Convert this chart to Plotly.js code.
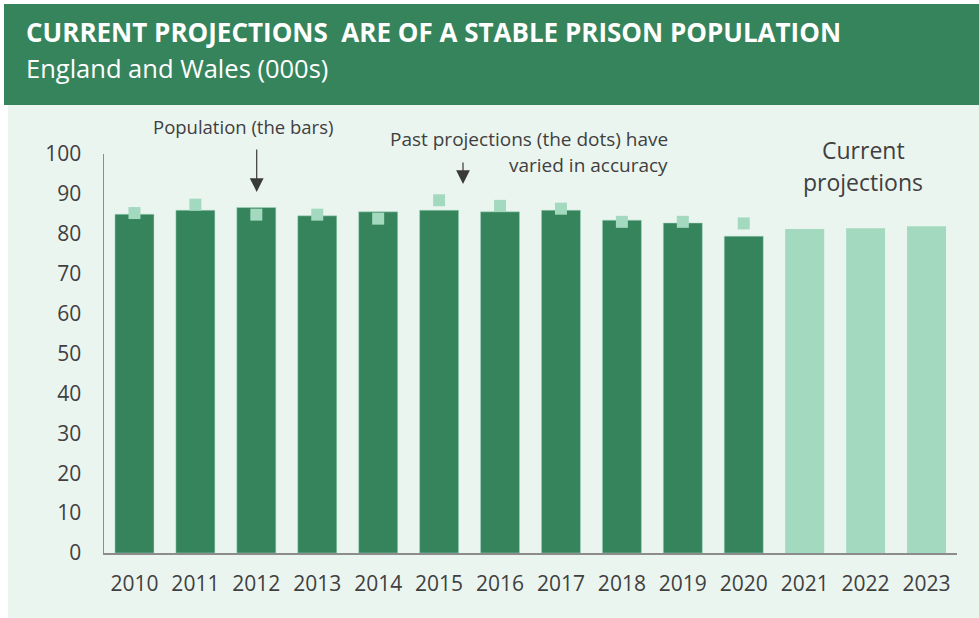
<!DOCTYPE html>
<html>
<head>
<meta charset="utf-8">
<script src="https://cdn.plot.ly/plotly-3.0.1.min.js"></script>
<style>
html,body{margin:0;padding:0;background:#ffffff;}
#chart{width:979px;height:618px;}
</style>
</head>
<body>
<div id="chart"></div>
<script>
// ---- data ----
var years = ["2010","2011","2012","2013","2014","2015","2016","2017","2018","2019","2020","2021","2022","2023"];
var actualYears = ["2010","2011","2012","2013","2014","2015","2016","2017","2018","2019","2020"];
var actualPopulation = [84.9, 85.9, 86.6, 84.5, 85.5, 85.9, 85.5, 85.9, 83.4, 82.7, 79.4];
var projYears = ["2021","2022","2023"];
var currentProjections = [81.2, 81.4, 81.9];
var pastProjections = [85.2, 87.3, 84.8, 84.8, 83.8, 88.4, 87.0, 86.3, 83.0, 83.0, 82.6];
var yTicks = [0,10,20,30,40,50,60,70,80,90,100];

var dark = "#36845c";
var light = "#a3d9bf";
var textCol = "#404040";
var FONT = "Open Sans, sans-serif";

var traces = [
  {type:"bar", x:actualYears, y:actualPopulation, marker:{color:dark, line:{color:"rgba(163,217,191,0.6)", width:0.8}}, hoverinfo:"x+y", name:"Population"},
  {type:"bar", x:projYears, y:currentProjections, marker:{color:light}, hoverinfo:"x+y", name:"Current projections"},
  {type:"scatter", mode:"markers", x:actualYears, y:pastProjections, marker:{symbol:"square", size:12, color:light}, hoverinfo:"x+y", name:"Past projections", cliponaxis:false}
];

var L = 104, R = 957, T = 154, B = 553, W = 979, H = 618;
function px(x){ return (x - L) / (R - L); }
function py(y){ return (B - y) / (B - T); }

var layout = {
  width: W, height: H,
  margin: {l: L, r: W - R, t: T, b: H - B, pad: 0},
  paper_bgcolor: "#ffffff",
  plot_bgcolor: "rgba(0,0,0,0)",
  showlegend: false,
  barmode: "overlay",
  bargap: 0.36,
  font: {family: FONT, color: textCol},
  xaxis: {
    type: "category", categoryorder: "array", categoryarray: years,
    range: [-0.5, years.length - 0.5], autorange: false,
    showline: true, linecolor: "#8c8c8c", linewidth: 1.5,
    showgrid: false, zeroline: false, ticks: "",
    tickfont: {family: FONT, size: 21, color: textCol},
    ticklabelstandoff: 11,
    fixedrange: true
  },
  yaxis: {
    range: [0, 100], autorange: false, tickvals: yTicks, ticktext: yTicks.map(String),
    showline: true, linecolor: "#8c8c8c", linewidth: 1.5,
    showgrid: false, zeroline: false, ticks: "",
    tickfont: {family: FONT, size: 21, color: textCol},
    ticklabelstandoff: 17,
    fixedrange: true
  },
  shapes: [
    {type:"rect", xref:"paper", yref:"paper", x0:px(8), x1:px(980), y0:py(619), y1:py(105), fillcolor:"#ebf5f0", line:{width:0}, layer:"below"},
    {type:"rect", xref:"paper", yref:"paper", x0:px(4), x1:px(980), y0:py(105), y1:py(4), fillcolor:"#36845c", line:{width:0}, layer:"below"}
  ],
  annotations: [
    {xref:"paper", yref:"paper", x:px(24), y:py(32), xanchor:"left", yanchor:"middle", showarrow:false,
     text:"<b>CURRENT PROJECTIONS  ARE OF A STABLE PRISON POPULATION</b>", font:{family:FONT, size:26, color:"#ffffff"}},
    {xref:"paper", yref:"paper", x:px(24), y:py(68), xanchor:"left", yanchor:"middle", showarrow:false,
     text:"England and Wales (000s)", font:{family:FONT, size:25.5, color:"#ffffff"}},
    {xref:"paper", yref:"paper", x:px(242.5), y:py(127), xanchor:"center", yanchor:"middle", showarrow:false,
     text:"Population (the bars)", font:{family:FONT, size:18.5, color:textCol}},
    {xref:"paper", yref:"paper", x:px(670), y:py(139), xanchor:"right", yanchor:"middle", showarrow:false,
     text:"Past projections (the dots) have", font:{family:FONT, size:19, color:textCol}},
    {xref:"paper", yref:"paper", x:px(670), y:py(165), xanchor:"right", yanchor:"middle", showarrow:false,
     text:"varied in accuracy", font:{family:FONT, size:19, color:textCol}},
    {xref:"paper", yref:"paper", x:px(863), y:py(150), xanchor:"center", yanchor:"middle", showarrow:false,
     text:"Current", font:{family:FONT, size:23, color:textCol}},
    {xref:"paper", yref:"paper", x:px(863), y:py(182), xanchor:"center", yanchor:"middle", showarrow:false,
     text:"projections", font:{family:FONT, size:23, color:textCol}},
    {xref:"paper", yref:"paper", x:px(256.7), y:py(192), ax:0, ay:-44, text:"", showarrow:true,
     arrowhead:2, arrowsize:2.3, arrowwidth:1.2, arrowcolor:"#3a3a3a"},
    {xref:"paper", yref:"paper", x:px(463), y:py(184), ax:0, ay:-23, text:"", showarrow:true,
     arrowhead:2, arrowsize:2.3, arrowwidth:1.2, arrowcolor:"#3a3a3a"}
  ]
};

Plotly.newPlot("chart", traces, layout, {displayModeBar:false, staticPlot:true});
</script>
</body>
</html>
